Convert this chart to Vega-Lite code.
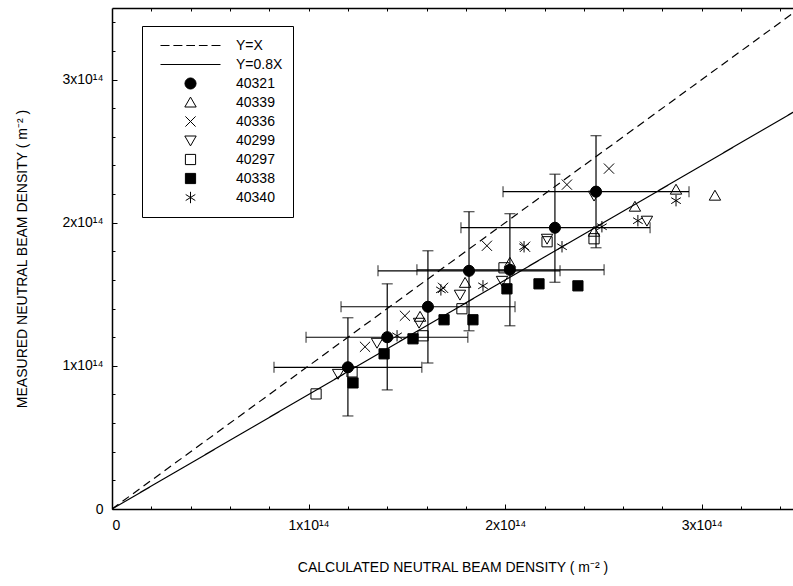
{
  "$schema": "https://vega.github.io/schema/vega-lite/v6.json",
  "width": 681,
  "height": 501,
  "autosize": {"type": "none"},
  "padding": {"left": 112, "top": 8, "right": 0, "bottom": 77},
  "config": {
    "font": "Liberation Sans",
    "view": {"stroke": null},
    "axis": {"labelFont": "Liberation Sans", "titleFont": "Liberation Sans", "labelColor": "black", "titleColor": "black", "domainColor": "black", "tickColor": "black", "grid": false},
    "legend": {"orient": "none", "legendX": 30, "legendY": 18, "title": null, "symbolSize": 3600, "clipHeight": 19, "rowPadding": 0, "labelFont": "Liberation Sans", "labelFontSize": 14, "labelColor": "black", "labelOffset": 15, "padding": 10, "symbolOffset": 8, "strokeColor": "black", "fillColor": "white", "symbolStrokeWidth": 1}
  },
  "datasets": {
    "pts": [
      {"series": "40321", "x": 1.20e14, "y": 0.99e14},
      {"series": "40321", "x": 1.40e14, "y": 1.20e14},
      {"series": "40321", "x": 1.607e14, "y": 1.413e14},
      {"series": "40321", "x": 1.816e14, "y": 1.664e14},
      {"series": "40321", "x": 2.024e14, "y": 1.671e14},
      {"series": "40321", "x": 2.253e14, "y": 1.965e14},
      {"series": "40321", "x": 2.462e14, "y": 2.217e14},
      {"series": "40339", "x": 1.567e14, "y": 1.343e14},
      {"series": "40339", "x": 1.796e14, "y": 1.580e14},
      {"series": "40339", "x": 2.024e14, "y": 1.720e14},
      {"series": "40339", "x": 2.452e14, "y": 1.937e14},
      {"series": "40339", "x": 2.660e14, "y": 2.112e14},
      {"series": "40339", "x": 2.869e14, "y": 2.231e14},
      {"series": "40339", "x": 3.067e14, "y": 2.189e14},
      {"series": "40336", "x": 1.287e14, "y": 1.133e14},
      {"series": "40336", "x": 1.490e14, "y": 1.350e14},
      {"series": "40336", "x": 1.684e14, "y": 1.545e14},
      {"series": "40336", "x": 1.907e14, "y": 1.839e14},
      {"series": "40336", "x": 2.101e14, "y": 1.832e14},
      {"series": "40336", "x": 2.314e14, "y": 2.266e14},
      {"series": "40336", "x": 2.528e14, "y": 2.378e14},
      {"series": "40299", "x": 1.150e14, "y": 0.944e14},
      {"series": "40299", "x": 1.348e14, "y": 1.161e14},
      {"series": "40299", "x": 1.562e14, "y": 1.301e14},
      {"series": "40299", "x": 1.770e14, "y": 1.497e14},
      {"series": "40299", "x": 1.984e14, "y": 1.594e14},
      {"series": "40299", "x": 2.213e14, "y": 1.888e14},
      {"series": "40299", "x": 2.452e14, "y": 2.189e14},
      {"series": "40299", "x": 2.721e14, "y": 2.014e14},
      {"series": "40297", "x": 1.038e14, "y": 0.804e14},
      {"series": "40297", "x": 1.221e14, "y": 0.958e14},
      {"series": "40297", "x": 1.582e14, "y": 1.210e14},
      {"series": "40297", "x": 1.780e14, "y": 1.399e14},
      {"series": "40297", "x": 1.994e14, "y": 1.685e14},
      {"series": "40297", "x": 2.213e14, "y": 1.867e14},
      {"series": "40297", "x": 2.452e14, "y": 1.888e14},
      {"series": "40338", "x": 1.226e14, "y": 0.881e14},
      {"series": "40338", "x": 1.384e14, "y": 1.084e14},
      {"series": "40338", "x": 1.531e14, "y": 1.189e14},
      {"series": "40338", "x": 1.689e14, "y": 1.322e14},
      {"series": "40338", "x": 1.836e14, "y": 1.322e14},
      {"series": "40338", "x": 2.009e14, "y": 1.538e14},
      {"series": "40338", "x": 2.172e14, "y": 1.573e14},
      {"series": "40338", "x": 2.370e14, "y": 1.559e14},
      {"series": "40340", "x": 1.450e14, "y": 1.210e14},
      {"series": "40340", "x": 1.673e14, "y": 1.531e14},
      {"series": "40340", "x": 1.887e14, "y": 1.559e14},
      {"series": "40340", "x": 2.096e14, "y": 1.832e14},
      {"series": "40340", "x": 2.289e14, "y": 1.832e14},
      {"series": "40340", "x": 2.492e14, "y": 1.972e14},
      {"series": "40340", "x": 2.675e14, "y": 2.014e14},
      {"series": "40340", "x": 2.869e14, "y": 2.154e14}
    ],
    "bars": [
      {"x": 1.20e14, "y": 0.99e14, "xlo": 0.824e14, "xhi": 1.576e14, "ylo": 0.65e14, "yhi": 1.336e14},
      {"x": 1.40e14, "y": 1.20e14, "xlo": 0.987e14, "xhi": 1.81e14, "ylo": 0.832e14, "yhi": 1.573e14},
      {"x": 1.607e14, "y": 1.413e14, "xlo": 1.165e14, "xhi": 2.05e14, "ylo": 1.02e14, "yhi": 1.804e14},
      {"x": 1.816e14, "y": 1.664e14, "xlo": 1.353e14, "xhi": 2.279e14, "ylo": 1.245e14, "yhi": 2.077e14},
      {"x": 2.024e14, "y": 1.671e14, "xlo": 1.551e14, "xhi": 2.503e14, "ylo": 1.28e14, "yhi": 2.063e14},
      {"x": 2.253e14, "y": 1.965e14, "xlo": 1.775e14, "xhi": 2.737e14, "ylo": 1.584e14, "yhi": 2.339e14},
      {"x": 2.462e14, "y": 2.217e14, "xlo": 1.989e14, "xhi": 2.935e14, "ylo": 1.825e14, "yhi": 2.608e14}
    ],
    "lines": [
      {"series": "Y=X", "x": 0, "y": 0},
      {"series": "Y=X", "x": 3.5e14, "y": 3.5e14},
      {"series": "Y=0.8X", "x": 0, "y": 0},
      {"series": "Y=0.8X", "x": 3.5e14, "y": 2.8e14}
    ]
  },
  "resolve": {"axis": {"x": "independent", "y": "independent"}},
  "layer": [
    {
      "data": {"name": "lines"},
      "mark": {"type": "line", "color": "black", "strokeWidth": 1.2, "clip": true},
      "encoding": {
        "x": {"field": "x", "type": "quantitative", "scale": {"domain": [0, 3.464e14], "nice": false, "zero": false},
              "axis": {"orient": "bottom", "values": [2e13, 4e13, 6e13, 8e13, 1.2e14, 1.4e14, 1.6e14, 1.8e14, 2.2e14, 2.4e14, 2.6e14, 2.8e14, 3.2e14, 3.4e14], "labels": false, "domain": false, "tickSize": -3, "title": null}},
        "y": {"field": "y", "type": "quantitative", "scale": {"domain": [0, 3.5e14], "nice": false, "zero": false},
              "axis": {"orient": "left", "values": [2e13, 4e13, 6e13, 8e13, 1.2e14, 1.4e14, 1.6e14, 1.8e14, 2.2e14, 2.4e14, 2.6e14, 2.8e14, 3.2e14, 3.4e14], "labels": false, "domain": false, "tickSize": -3, "title": null}},
        "strokeDash": {"field": "series", "type": "nominal", "scale": {"domain": ["Y=X", "Y=0.8X"], "range": [[8, 5], [1, 0]]}, "legend": null}
      }
    },
    {
      "data": {"name": "bars"},
      "mark": {"type": "errorbar", "ticks": {"size": 11}, "thickness": 1.2, "color": "black"},
      "encoding": {
        "x": {"field": "xlo", "type": "quantitative",
              "axis": {"orient": "top", "values": [2e13, 4e13, 6e13, 8e13, 1e14, 1.2e14, 1.4e14, 1.6e14, 1.8e14, 2e14, 2.2e14, 2.4e14, 2.6e14, 2.8e14, 3e14, 3.2e14, 3.4e14], "labels": false, "domainWidth": 1.5, "tickSize": -3, "title": null}},
        "x2": {"field": "xhi"},
        "y": {"field": "y", "type": "quantitative", "axis": null}
      }
    },
    {
      "data": {"name": "bars"},
      "mark": {"type": "errorbar", "ticks": {"size": 11}, "thickness": 1.2, "color": "black"},
      "encoding": {
        "y": {"field": "ylo", "type": "quantitative", "axis": null},
        "y2": {"field": "yhi"},
        "x": {"field": "x", "type": "quantitative", "axis": null}
      }
    },
    {
      "data": {"name": "pts"},
      "mark": {"type": "point", "size": 3600, "strokeWidth": 1, "opacity": 1},
      "encoding": {
        "x": {"field": "x", "type": "quantitative",
              "axis": {"orient": "bottom", "values": [0, 1e14, 2e14, 3e14], "labelExpr": "datum.value == 0 ? '0' : format(datum.value / 1e14, 'd') + 'x10¹⁴'", "labelFontSize": 14, "labelPadding": 14, "domainWidth": 1.5, "tickSize": -5, "title": "CALCULATED NEUTRAL BEAM DENSITY ( m⁻² )", "titleFontSize": 14, "titleFontWeight": "normal", "titlePadding": 28}},
        "y": {"field": "y", "type": "quantitative",
              "axis": {"orient": "left", "values": [0, 1e14, 2e14, 3e14], "labelExpr": "datum.value == 0 ? '0' : format(datum.value / 1e14, 'd') + 'x10¹⁴'", "labelFontSize": 14, "labelPadding": 14, "domainWidth": 1.5, "tickSize": -5, "title": "MEASURED NEUTRAL BEAM DENSITY ( m⁻² )", "titleFontSize": 14, "titleFontWeight": "normal", "titlePadding": 32}},
        "shape": {"field": "series", "type": "nominal",
          "scale": {"domain": ["Y=X", "Y=0.8X", "40321", "40339", "40336", "40299", "40297", "40338", "40340"],
                    "range": [
                      "M-1,0L-0.7,0M-0.57,0L-0.27,0M-0.14,0L0.15,0M0.28,0L0.57,0M0.7,0L1,0",
                      "M-1,0L1,0",
                      "M0.185,0A0.185,0.185,0,1,1,-0.185,0A0.185,0.185,0,1,1,0.185,0Z",
                      "M0,-0.18L0.19,0.15L-0.19,0.15Z",
                      "M-0.17,-0.17L0.17,0.17M-0.17,0.17L0.17,-0.17",
                      "M0,0.18L0.19,-0.15L-0.19,-0.15Z",
                      "M-0.17,-0.17L0.17,-0.17L0.17,0.17L-0.17,0.17Z",
                      "M-0.17,-0.17L0.17,-0.17L0.17,0.17L-0.17,0.17Z",
                      "M0,-0.19L0,0.19M-0.16,-0.1L0.16,0.1M-0.16,0.1L0.16,-0.1"
                    ]},
          "legend": {}},
        "fill": {"field": "series", "type": "nominal",
          "scale": {"domain": ["Y=X", "Y=0.8X", "40321", "40339", "40336", "40299", "40297", "40338", "40340"],
                    "range": ["transparent", "transparent", "black", "transparent", "transparent", "transparent", "transparent", "black", "transparent"]},
          "legend": {}},
        "stroke": {"field": "series", "type": "nominal",
          "scale": {"domain": ["Y=X", "Y=0.8X", "40321", "40339", "40336", "40299", "40297", "40338", "40340"],
                    "range": ["black", "black", "black", "black", "black", "black", "black", "black", "black"]},
          "legend": {}}
      }
    }
  ]
}
